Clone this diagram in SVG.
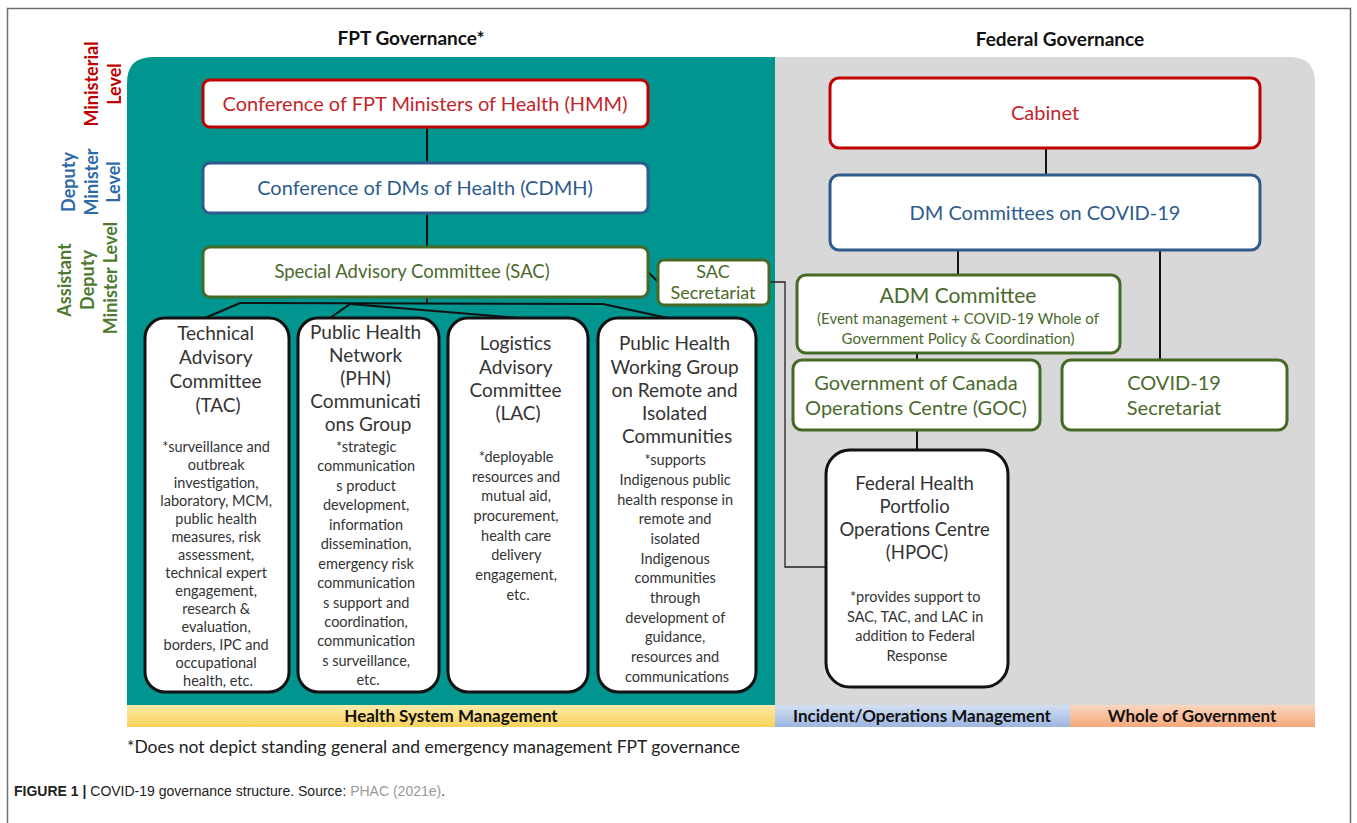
<svg xmlns="http://www.w3.org/2000/svg" width="1357" height="823" viewBox="0 0 1357 823">
  <defs>
    <linearGradient id="gYellow" x1="0" y1="0" x2="0" y2="1">
      <stop offset="0" stop-color="#fdeaa8"/>
      <stop offset="1" stop-color="#f8d25a"/>
    </linearGradient>
    <linearGradient id="gBlue" x1="0" y1="0" x2="0" y2="1">
      <stop offset="0" stop-color="#d3e0f3"/>
      <stop offset="1" stop-color="#9db5df"/>
    </linearGradient>
    <linearGradient id="gOrange" x1="0" y1="0" x2="0" y2="1">
      <stop offset="0" stop-color="#fbd6bf"/>
      <stop offset="1" stop-color="#f4a77a"/>
    </linearGradient>
    <style>
      text { font-family: Lato, "Open Sans", "Liberation Sans", sans-serif; }
      .ttl { font-size: 19px; font-weight: bold; fill: #111; text-anchor: middle; }
      .lvl { font-size: 18px; font-weight: bold; text-anchor: middle; dominant-baseline: central; }
      .box { fill: #fff; stroke-width: 3; }
      .red { stroke: #c00000; }
      .blue { stroke: #2f5a8c; }
      .green { stroke: #456a25; }
      .blk { stroke: #111; }
      .tR { fill: #c4252b; font-size: 20px; text-anchor: middle; }
      .tB { fill: #2e5b8c; font-size: 20px; text-anchor: middle; }
      .tG { fill: #4a6a2c; font-size: 20px; text-anchor: middle; }
      .sm { font-size: 15px; }
      .hd { fill: #333; font-size: 19px; text-anchor: middle; }
      .bd { fill: #333; font-size: 14.5px; text-anchor: middle; }
      .bar { font-size: 17px; font-weight: bold; fill: #111; text-anchor: middle; }
      .ln { stroke: #111; stroke-width: 2; fill: none; }
      .thin { stroke: #222; stroke-width: 1.3; fill: none; }
      .cap { font-family: "Liberation Sans", Arial, sans-serif; font-size: 14px; fill: #222; }
    </style>
  </defs>

  <rect width="1357" height="823" fill="#fff"/>
  <!-- figure frame -->
  <path d="M7.5,830 V8.5 H1350.5 V830" fill="none" stroke="#6e6e6e" stroke-width="1.5"/>

  <!-- headings -->
  <text class="ttl" x="411" y="45">FPT Governance*</text>
  <text class="ttl" x="1060" y="46">Federal Governance</text>

  <!-- level labels -->
  <g id="levels">
    <text class="lvl" fill="#c00000" transform="translate(91,84) rotate(-90)">Ministerial</text>
    <text class="lvl" fill="#c00000" transform="translate(114,84) rotate(-90)">Level</text>
    <text class="lvl" fill="#2e6aa8" transform="translate(68,182) rotate(-90)">Deputy</text>
    <text class="lvl" fill="#2e6aa8" transform="translate(91,182) rotate(-90)">Minister</text>
    <text class="lvl" fill="#2e6aa8" transform="translate(113,182) rotate(-90)">Level</text>
    <text class="lvl" fill="#4d7a2e" transform="translate(64,280) rotate(-90)">Assistant</text>
    <text class="lvl" fill="#4d7a2e" transform="translate(87,280) rotate(-90)">Deputy</text>
    <text class="lvl" fill="#4d7a2e" transform="translate(110,278) rotate(-90)">Minister Level</text>
  </g>

  <!-- panels -->
  <path d="M127,705 V83 Q127,57 153,57 H775 V705 Z" fill="#00958f"/>
  <path d="M775,705 V57 H1290 Q1315,57 1315,83 V705 Z" fill="#d8d8d8"/>

  <!-- management bands -->
  <g id="bands">
    <rect x="127" y="705" width="648" height="22" fill="url(#gYellow)"/>
    <rect x="775" y="705" width="295" height="22" fill="url(#gBlue)"/>
    <rect x="1070" y="705" width="245" height="22" fill="url(#gOrange)"/>
    <text class="bar" x="451" y="722">Health System Management</text>
    <text class="bar" x="922" y="722">Incident/Operations Management</text>
    <text class="bar" x="1192" y="722">Whole of Government</text>
  </g>

  <!-- connectors -->
  <g id="connectors">
    <line class="ln" x1="427" y1="127" x2="427" y2="163"/>
    <line class="ln" x1="427" y1="213" x2="427" y2="247"/>
    <line class="ln" x1="427" y1="297" x2="427" y2="303"/>
    <polyline class="ln" points="205,318 240,303 603,304 668,318"/>
    <line class="ln" x1="330" y1="318" x2="350" y2="304"/>
    <line class="ln" x1="350" y1="304" x2="520" y2="318"/>
    <line class="ln" x1="648" y1="272" x2="659" y2="283"/>
    <polyline class="thin" points="769,282 785,282 785,567 826,567"/>
    <line class="ln" x1="1046" y1="148" x2="1046" y2="175"/>
    <line class="ln" x1="958" y1="250" x2="958" y2="275"/>
    <line class="ln" x1="1160" y1="250" x2="1160" y2="360"/>
    <line class="ln" x1="917" y1="353" x2="917" y2="360"/>
    <line class="ln" x1="917" y1="430" x2="917" y2="450"/>
  </g>

  <!-- FPT governance -->
  <g id="hmm">
    <rect class="box red" x="203" y="80" width="445" height="47" rx="7"/>
    <text class="tR" x="425" y="111">Conference of FPT Ministers of Health (HMM)</text>
  </g>
  <g id="cdmh">
    <rect class="box blue" x="203" y="163" width="445" height="50" rx="7"/>
    <text class="tB" x="425" y="195">Conference of DMs of Health (CDMH)</text>
  </g>
  <g id="sac">
    <rect class="box green" x="203" y="247" width="445" height="50" rx="7"/>
    <text class="tG" x="412" y="278" style="font-size:18.5px">Special Advisory Committee (SAC)</text>
  </g>
  <g id="sac-secretariat">
    <rect class="box green" x="658" y="260" width="111" height="45" rx="6" stroke-width="2.5"/>
    <text class="tG" x="713" y="278" style="font-size:18px">SAC</text>
    <text class="tG" x="713" y="299" style="font-size:18px">Secretariat</text>
  </g>

  <g id="tac">
    <rect class="box blk" x="145" y="318" width="144" height="374" rx="20"/>
    <text class="hd">
      <tspan x="218" y="340">Technical</tspan>
      <tspan x="218" y="364">Advisory</tspan>
      <tspan x="218" y="388">Committee</tspan>
      <tspan x="218" y="412">(TAC)</tspan>
    </text>
    <text class="bd">
      <tspan x="218" y="452">*surveillance and</tspan>
      <tspan x="218" y="470">outbreak</tspan>
      <tspan x="218" y="488">investigation,</tspan>
      <tspan x="218" y="506">laboratory, MCM,</tspan>
      <tspan x="218" y="524">public health</tspan>
      <tspan x="218" y="542">measures, risk</tspan>
      <tspan x="218" y="560">assessment,</tspan>
      <tspan x="218" y="578">technical expert</tspan>
      <tspan x="218" y="596">engagement,</tspan>
      <tspan x="218" y="614">research &amp;</tspan>
      <tspan x="218" y="632">evaluation,</tspan>
      <tspan x="218" y="650">borders, IPC and</tspan>
      <tspan x="218" y="668">occupational</tspan>
      <tspan x="218" y="686">health, etc.</tspan>
    </text>
  </g>

  <g id="phn">
    <rect class="box blk" x="298" y="318" width="141" height="374" rx="20"/>
    <text class="hd">
      <tspan x="368" y="339">Public Health</tspan>
      <tspan x="368" y="362">Network</tspan>
      <tspan x="368" y="385">(PHN)</tspan>
      <tspan x="368" y="408">Communicati</tspan>
      <tspan x="368" y="431">ons Group</tspan>
    </text>
    <text class="bd">
      <tspan x="368" y="452">*strategic</tspan>
      <tspan x="368" y="471">communication</tspan>
      <tspan x="368" y="491">s product</tspan>
      <tspan x="368" y="510">development,</tspan>
      <tspan x="368" y="530">information</tspan>
      <tspan x="368" y="549">dissemination,</tspan>
      <tspan x="368" y="569">emergency risk</tspan>
      <tspan x="368" y="588">communication</tspan>
      <tspan x="368" y="608">s support and</tspan>
      <tspan x="368" y="627">coordination,</tspan>
      <tspan x="368" y="646">communication</tspan>
      <tspan x="368" y="666">s surveillance,</tspan>
      <tspan x="368" y="685">etc.</tspan>
    </text>
  </g>

  <g id="lac">
    <rect class="box blk" x="448" y="318" width="140" height="374" rx="20"/>
    <text class="hd">
      <tspan x="518" y="350">Logistics</tspan>
      <tspan x="518" y="374">Advisory</tspan>
      <tspan x="518" y="397">Committee</tspan>
      <tspan x="518" y="420">(LAC)</tspan>
    </text>
    <text class="bd">
      <tspan x="518" y="462">*deployable</tspan>
      <tspan x="518" y="482">resources and</tspan>
      <tspan x="518" y="501">mutual aid,</tspan>
      <tspan x="518" y="521">procurement,</tspan>
      <tspan x="518" y="541">health care</tspan>
      <tspan x="518" y="560">delivery</tspan>
      <tspan x="518" y="580">engagement,</tspan>
      <tspan x="518" y="600">etc.</tspan>
    </text>
  </g>

  <g id="phwg">
    <rect class="box blk" x="598" y="318" width="158" height="374" rx="20"/>
    <text class="hd">
      <tspan x="677" y="350">Public Health</tspan>
      <tspan x="677" y="374">Working Group</tspan>
      <tspan x="677" y="397">on Remote and</tspan>
      <tspan x="677" y="420">Isolated</tspan>
      <tspan x="677" y="443">Communities</tspan>
    </text>
    <text class="bd">
      <tspan x="677" y="465">*supports</tspan>
      <tspan x="677" y="485">Indigenous public</tspan>
      <tspan x="677" y="505">health response in</tspan>
      <tspan x="677" y="524">remote and</tspan>
      <tspan x="677" y="544">isolated</tspan>
      <tspan x="677" y="564">Indigenous</tspan>
      <tspan x="677" y="583">communities</tspan>
      <tspan x="677" y="603">through</tspan>
      <tspan x="677" y="623">development of</tspan>
      <tspan x="677" y="642">guidance,</tspan>
      <tspan x="677" y="662">resources and</tspan>
      <tspan x="677" y="682">communications</tspan>
    </text>
  </g>

  <!-- Federal governance -->
  <g id="cabinet">
    <rect class="box red" x="830" y="78" width="430" height="70" rx="9"/>
    <text class="tR" x="1045" y="120">Cabinet</text>
  </g>
  <g id="dm-committees">
    <rect class="box blue" x="830" y="175" width="430" height="75" rx="9"/>
    <text class="tB" x="1045" y="220">DM Committees on COVID-19</text>
  </g>
  <g id="adm">
    <rect class="box green" x="797" y="275" width="323" height="78" rx="9"/>
    <text class="tG" x="958" y="303" style="font-size:21px">ADM Committee</text>
    <text class="tG sm" x="958" y="324">(Event management + COVID-19 Whole of</text>
    <text class="tG sm" x="958" y="344">Government Policy &amp; Coordination)</text>
  </g>
  <g id="goc">
    <rect class="box green" x="793" y="360" width="247" height="70" rx="9"/>
    <text class="tG" x="916" y="390">Government of Canada</text>
    <text class="tG" x="916" y="415">Operations Centre (GOC)</text>
  </g>
  <g id="covid-secretariat">
    <rect class="box green" x="1062" y="360" width="225" height="70" rx="9"/>
    <text class="tG" x="1174" y="390">COVID-19</text>
    <text class="tG" x="1174" y="415">Secretariat</text>
  </g>
  <g id="hpoc">
    <rect class="box blk" x="826" y="450" width="182" height="237" rx="24"/>
    <text class="hd" style="font-size:18.5px">
      <tspan x="917" y="490">Federal Health</tspan>
      <tspan x="917" y="513">Portfolio</tspan>
      <tspan x="917" y="536">Operations Centre</tspan>
      <tspan x="917" y="559">(HPOC)</tspan>
    </text>
    <text class="bd" style="font-size:14.5px">
      <tspan x="917" y="602">*provides support to</tspan>
      <tspan x="917" y="622">SAC, TAC, and LAC in</tspan>
      <tspan x="917" y="641">addition to Federal</tspan>
      <tspan x="917" y="661">Response</tspan>
    </text>
  </g>

  <!-- footnote and caption -->
  <text x="127" y="753" style="font-size:17.5px" fill="#222">*Does not depict standing general and emergency management FPT governance</text>
  <text class="cap" x="14" y="796"><tspan font-weight="bold">FIGURE 1 |</tspan> COVID-19 governance structure. Source: <tspan fill="#9a9a9a">PHAC (2021e)</tspan>.</text>
</svg>
